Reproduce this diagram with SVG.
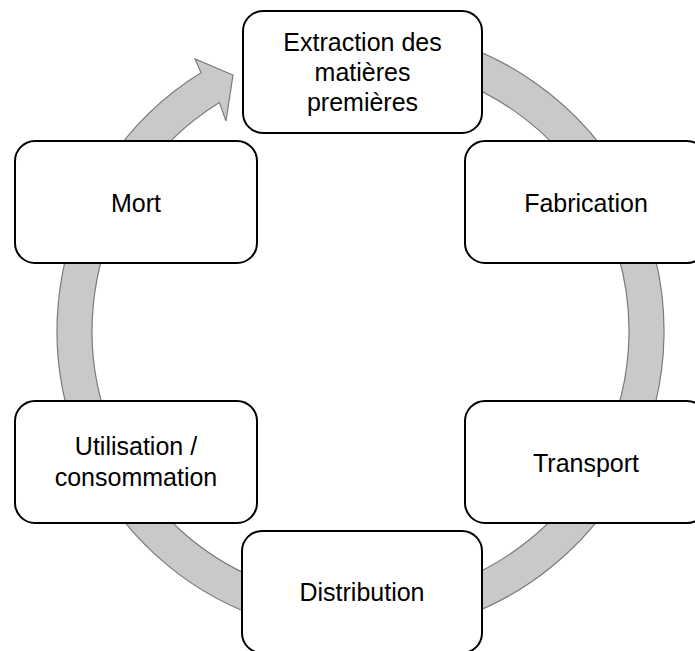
<svg xmlns="http://www.w3.org/2000/svg" width="695" height="651" viewBox="0 0 695 651">
  <style>
    .box { fill: #ffffff; stroke: #000000; stroke-width: 2; }
    .lbl { font-family: "Liberation Sans", Arial, sans-serif; font-size: 25px; fill: #000000; text-anchor: middle; }
    .ring { fill: #c9c9c9; stroke: #7a7a7a; stroke-width: 1.2; }
  </style>
  <rect width="695" height="651" fill="#ffffff"/>
  <g id="connectors">
    <path class="ring" d="M 413.2 32.1 A 303.5 303.5 0 1 1 201.0 72.8 L 195 59 L 233 75 L 226 121 L 219.4 102.6 A 268.5 268.5 0 1 0 407.1 66.6 Z"/>
  </g>
  <g id="node-extraction">
    <rect class="box" x="243" y="11" width="239" height="122" rx="20" ry="20"/>
    <text class="lbl" x="362.5" y="51">Extraction des</text>
    <text class="lbl" x="362.5" y="81">matières</text>
    <text class="lbl" x="362.5" y="111">premières</text>
  </g>
  <g id="node-fabrication">
    <rect class="box" x="465" y="141" width="242" height="122" rx="20" ry="20"/>
    <text class="lbl" x="586" y="211.5">Fabrication</text>
  </g>
  <g id="node-transport">
    <rect class="box" x="465" y="401" width="242" height="122" rx="20" ry="20"/>
    <text class="lbl" x="586" y="471.5">Transport</text>
  </g>
  <g id="node-distribution">
    <rect class="box" x="242" y="531" width="240" height="122" rx="20" ry="20"/>
    <text class="lbl" x="362" y="601">Distribution</text>
  </g>
  <g id="node-utilisation">
    <rect class="box" x="15" y="401" width="242" height="122" rx="20" ry="20"/>
    <text class="lbl" x="136" y="455">Utilisation /</text>
    <text class="lbl" x="136" y="486">consommation</text>
  </g>
  <g id="node-mort">
    <rect class="box" x="15" y="141" width="242" height="122" rx="20" ry="20"/>
    <text class="lbl" x="136" y="211.5">Mort</text>
  </g>
</svg>
